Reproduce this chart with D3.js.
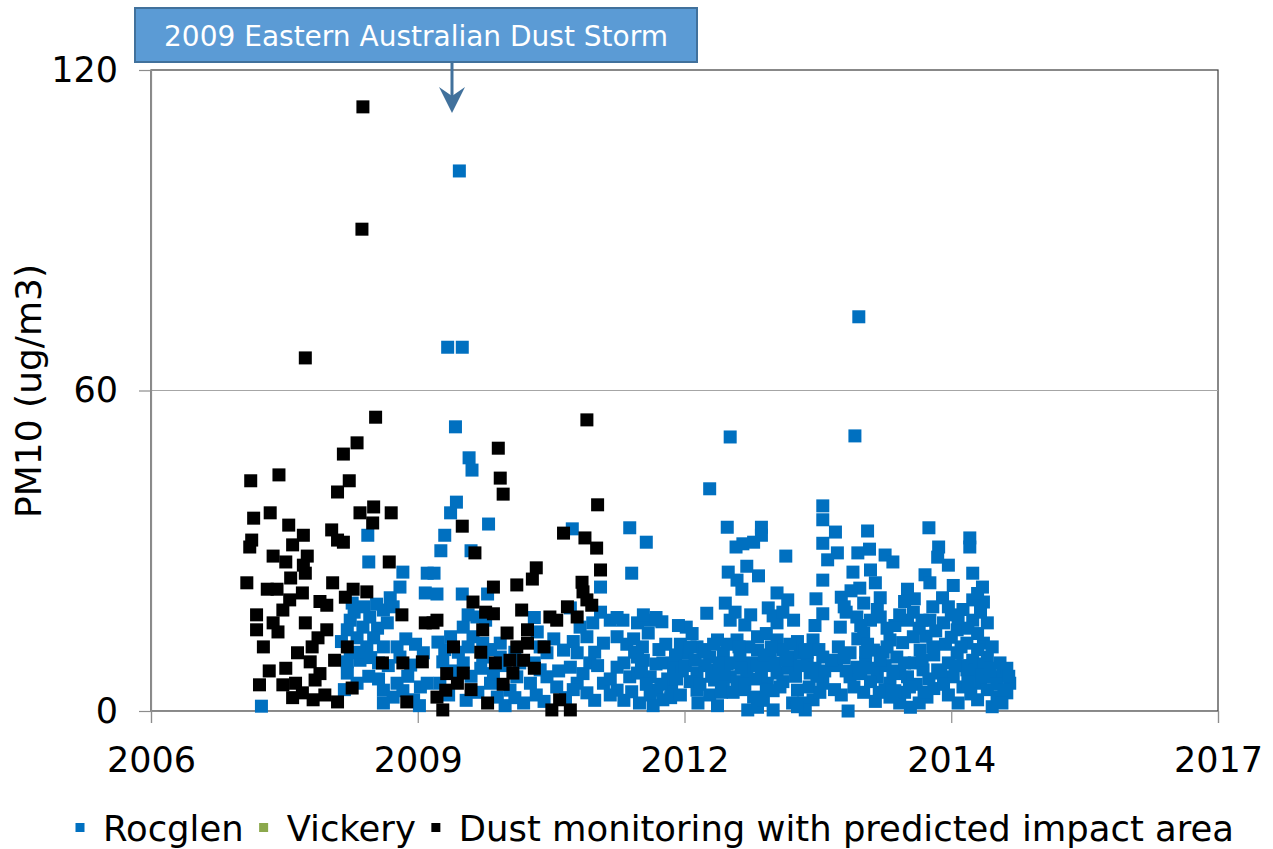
<!DOCTYPE html>
<html>
<head>
<meta charset="utf-8">
<script src="https://cdn.jsdelivr.net/npm/d3@7"></script>
<style>
  body { margin: 0; background: #fff; }
  svg { display: block; font-family: "DejaVu Sans", Verdana, sans-serif; }
</style>
</head>
<body>
<div id="chart"></div>
<script>
// ---------------------------- DATA ---------------------------- //
// [decimal year, PM10 ug/m3]
const dustMonitoring = [
  [2008.84,113.1],[2008.83,90.2],[2008.25,66.1],
  [2008.97,55.0],[2008.78,50.2],[2008.64,48.1],[2007.98,44.2],[2007.69,43.1],[2008.70,43.1],[2008.58,41.0],
  [2007.89,37.1],[2007.72,36.1],[2008.95,38.2],[2008.81,37.1],[2009.13,37.1],[2008.94,35.2],[2008.08,34.8],
  [2008.23,32.9],[2008.52,33.9],[2008.58,32.0],[2008.64,31.6],[2007.70,32.0],[2007.68,30.7],[2008.12,31.1],
  [2007.92,29.0],[2008.27,29.0],[2008.05,27.9],[2008.23,27.3],[2009.11,27.9],[2008.25,25.8],[2008.10,24.9],
  [2007.65,24.0],[2008.53,24.0],[2007.86,22.8],[2007.96,22.8],[2008.22,22.1],[2008.74,22.8],[2008.88,22.3],
  [2008.09,20.8],[2008.02,18.9],[2008.47,19.8],[2008.66,21.3],[2007.75,18.0],[2009.24,18.0],[2007.75,15.2],
  [2007.92,16.5],[2007.97,14.8],[2008.47,15.2],[2009.48,16.5],[2007.82,12.0],[2008.32,12.0],[2008.38,13.7],
  [2008.17,10.9],[2008.68,12.0],[2008.30,9.2],[2009.04,9.0],[2009.25,9.0],[2009.45,9.2],[2007.78,4.9],
  [2008.02,4.9],[2008.15,5.2],[2008.35,5.8],[2008.22,3.4],[2008.33,2.1],[2008.45,3.0],[2008.58,1.7],
  [2008.73,4.3],[2009.29,1.7],
  [2008.05,8.0],[2008.12,2.5],[2008.40,7.0],[2008.55,9.5],[2007.88,7.5],[2008.25,16.5],[2008.40,20.5],
  [2011.14,54.5],[2010.23,49.2],[2010.25,43.6],[2010.28,40.6],[2011.25,38.6],[2009.86,34.6],[2009.99,29.6],
  [2010.90,33.3],[2011.12,32.4],[2011.24,30.5],[2010.62,26.8],[2010.58,24.7],[2010.42,23.6],[2010.18,23.2],
  [2011.28,26.4],[2011.09,24.1],[2011.10,22.3],[2009.97,20.4],[2010.47,18.9],[2010.18,18.2],[2010.94,19.5],
  [2011.19,19.8],[2010.76,17.6],[2009.60,17.0],[2010.07,15.2],[2010.32,14.6],[2010.53,15.2],[2010.42,12.0],
  [2009.77,12.0],[2010.35,9.5],[2010.49,9.5],[2009.87,7.1],[2009.81,5.2],[2009.60,2.6],[2009.66,0.2],
  [2010.12,1.5],[2010.78,0.2],[2010.97,0.2],[2010.86,2.1],[2011.04,17.6],
  [2009.56,16.5],[2009.69,3.9],[2010.38,7.1],[2010.53,12.7],[2011.14,20.8],[2010.83,17.0],
  [2009.70,7.0],[2009.95,4.0],[2010.05,11.0],[2010.20,9.0],[2010.28,5.0],[2010.60,8.0],[2010.70,12.0],
  [2010.10,18.5]
];

const rocglen = [
  [2007.80,0.9],
  [2008.89,32.9],[2008.90,27.9],[2009.25,26.0],[2009.22,23.2],[2009.50,25.8],[2009.48,22.1],[2009.12,21.2],
  [2008.73,20.2],[2009.05,18.9],[2008.91,17.6],[2008.71,17.0],[2008.68,15.2],[2008.84,15.7],[2008.99,15.5],
  [2009.09,16.5],[2008.78,13.7],[2008.95,13.7],[2008.88,12.0],[2009.05,12.0],[2009.19,12.0],[2008.71,10.9],
  [2009.22,10.1],[2009.33,8.6],[2009.46,10.9],[2008.68,9.2],[2008.81,9.5],[2008.68,7.1],[2008.78,5.2],
  [2009.05,3.9],[2009.15,2.6],[2009.19,5.2],[2009.36,2.1],[2009.43,4.5],[2009.50,5.2],
  [2008.75,18.5],[2008.85,19.5],[2008.98,20.0],[2009.15,19.5],[2008.80,11.0],[2008.92,10.0],[2009.00,9.0],
  [2009.10,8.5],[2009.28,13.5],[2009.38,12.5],[2008.90,6.5],[2009.00,6.0],[2009.25,3.8],[2009.30,6.5],
  [2009.05,1.5],[2009.42,1.0],[2008.62,13.0],[2008.65,4.0],
  [2009.83,101.1],[2009.71,68.1],[2009.86,68.1],[2013.93,73.8],[2012.61,51.3],[2013.89,51.5],
  [2009.79,53.2],[2009.93,47.4],[2009.96,45.1],[2009.80,39.1],[2009.74,37.1],[2009.68,32.9],[2010.13,35.0],
  [2009.64,30.0],[2009.95,30.0],[2009.57,25.8],[2009.60,21.9],[2009.86,21.9],[2010.12,21.9],[2010.99,34.1],
  [2011.28,23.2],[2011.58,34.3],[2010.97,19.3],[2010.01,17.6],[2009.87,15.7],[2009.74,13.9],[2009.61,12.9],
  [2009.97,13.9],[2010.07,12.7],[2010.25,12.7],[2010.63,14.8],[2010.66,12.0],[2011.07,15.7],[2011.20,16.5],
  [2011.38,17.0],[2011.51,17.0],[2011.31,12.7],[2011.45,13.9],[2011.14,13.9],[2009.66,9.2],[2009.87,9.0],
  [2010.07,10.1],[2010.25,10.1],[2010.73,10.9],[2010.90,11.4],[2011.04,10.9],[2010.97,8.2],[2011.17,9.0],
  [2011.45,8.2],[2009.63,5.2],[2010.15,5.2],[2010.22,2.6],[2010.35,3.9],[2010.49,1.5],[2010.56,5.2],
  [2010.73,6.4],[2010.83,4.5],[2011.04,5.2],[2011.14,3.4],[2011.31,5.2],[2011.45,3.9],[2011.58,6.4],
  [2010.66,7.7],[2010.42,6.4],
  [2009.72,3.0],[2009.90,2.0],[2010.02,3.5],[2010.30,1.0],[2010.40,2.5],[2010.62,3.0],[2010.70,1.8],
  [2010.92,2.5],[2011.00,4.0],[2011.22,2.0],[2011.38,3.0],[2011.52,2.0],
  [2009.78,7.5],[2009.95,6.5],[2010.05,8.0],[2010.18,7.0],[2010.30,8.5],[2010.45,9.0],[2010.60,9.0],
  [2010.85,7.5],[2011.10,7.0],[2011.25,8.5],[2011.38,6.0],[2011.52,9.0],
  [2009.68,11.5],[2009.82,11.0],[2009.92,12.0],[2010.15,11.5],[2010.40,11.0],[2010.80,13.5],[2011.00,13.0],
  [2011.22,11.0],[2011.55,12.5],
  [2009.92,18.0],[2010.10,17.0],[2010.60,17.5],[2011.28,18.5],[2011.45,17.5],
  [2012.40,41.6],[2011.75,31.6],[2011.60,25.8],[2012.58,34.4],[2012.93,34.4],[2012.93,32.9],[2012.85,31.6],
  [2012.74,31.3],[2012.67,30.7],[2013.18,29.0],[2012.59,26.0],[2012.78,27.1],[2012.90,25.3],[2012.68,24.5],
  [2012.73,22.8],[2013.56,38.4],[2013.56,35.8],[2013.56,31.4],[2013.61,28.3],[2013.56,24.5],[2013.49,21.0],
  [2013.56,18.2],[2013.09,22.1],[2013.20,20.8],[2013.00,19.3],[2012.56,20.2],[2012.37,18.3],[2012.16,15.7],
  [2011.79,17.0],[2011.91,16.7],[2011.66,16.5],[2011.77,14.6],[2012.61,17.0],[2012.76,16.1],[2013.09,16.5],
  [2013.26,17.0],[2012.48,13.3],[2012.68,13.3],[2012.89,13.9],[2013.09,13.3],[2013.46,13.3],[2012.27,12.0],
  [2012.17,10.9],[2011.71,12.0],[2011.66,10.1],[2011.92,9.0],[2012.03,8.2],[2012.40,10.1],[2012.54,10.9],
  [2012.71,10.1],[2012.89,11.4],[2013.02,10.1],[2013.23,10.1],[2013.33,10.9],[2013.56,10.1],[2011.66,7.1],
  [2011.79,6.4],[2012.27,7.1],[2012.48,7.7],[2012.61,6.4],[2012.78,7.1],[2013.09,7.1],[2013.43,7.1],
  [2011.60,3.6],[2011.86,3.9],[2011.92,2.1],[2012.27,3.9],[2012.54,5.2],[2012.85,2.6],[2012.89,0.7],
  [2013.05,0.2],[2012.99,5.2],[2013.30,3.9],[2013.36,1.5],[2013.46,2.1],[2013.56,5.2],[2012.79,0.2],
  [2013.38,0.2],
  [2011.68,1.5],[2011.79,3.0],[2012.01,4.0],[2011.82,1.0],[2012.00,2.5],[2012.28,1.5],[2012.40,3.0],
  [2012.48,1.0],[2012.75,4.0],[2012.95,2.0],[2013.05,3.8],[2013.25,1.5],[2013.30,0.8],
  [2011.70,8.0],[2011.85,8.8],[2011.97,6.0],[2012.12,7.5],[2012.20,5.5],[2012.35,8.5],[2012.45,5.8],
  [2012.58,8.8],[2012.68,5.5],[2012.83,9.0],[2012.93,6.5],[2013.00,8.5],[2013.15,5.5],[2013.20,8.0],
  [2013.40,9.0],[2013.50,6.5],
  [2011.62,13.5],[2012.10,12.5],[2012.22,14.5],[2012.33,11.5],[2012.58,12.5],[2012.80,12.0],[2012.98,14.5],
  [2013.15,11.5],[2013.30,13.0],[2013.40,11.0],
  [2011.72,18.0],[2011.85,17.5],[2012.08,16.0],[2012.66,18.5],[2012.82,18.0],[2013.05,17.8],[2013.15,18.5],
  [2013.48,16.0],
  [2011.63,11.0],[2011.72,9.5],[2011.75,5.0],[2011.88,11.5],[2011.95,12.5],[2012.05,10.5],[2011.90,5.0],
  [2012.06,6.0],[2012.10,3.0],
  [2012.15,8.5],[2012.20,12.0],[2012.25,9.5],[2012.30,5.0],[2012.35,11.0],[2012.42,6.5],[2012.44,12.5],
  [2012.50,9.0],[2012.52,3.5],
  [2012.55,7.0],[2012.62,9.0],[2012.64,3.5],[2012.72,8.0],[2012.70,12.0],[2012.76,5.0],[2012.86,6.0],
  [2012.88,8.5],[2012.96,10.5],[2012.98,4.0],[2013.03,12.0],[2013.07,9.0],
  [2013.12,4.5],[2013.18,9.5],[2013.22,12.5],[2013.28,6.5],[2013.33,8.5],[2013.38,11.5],[2013.42,4.5],
  [2013.48,8.0],[2013.52,11.5],[2013.53,3.5],[2013.58,7.5],
  [2013.69,33.5],[2013.71,29.6],[2014.02,33.7],[2013.92,29.6],[2014.04,30.3],[2014.20,29.2],[2014.28,27.9],
  [2013.87,26.0],[2014.05,26.4],[2014.65,34.3],[2014.75,30.7],[2014.74,28.8],[2014.85,27.3],[2014.61,25.5],
  [2014.66,24.0],[2015.07,32.4],[2015.07,30.7],[2015.10,25.8],[2015.20,23.2],[2015.21,20.4],[2015.10,20.8],
  [2013.75,21.3],[2013.94,23.0],[2014.15,21.2],[2014.43,22.8],[2014.79,21.2],[2014.69,19.5],[2013.98,20.2],
  [2013.91,17.6],[2014.15,17.6],[2014.49,18.5],[2014.43,17.0],[2014.66,17.0],[2015.10,17.0],[2015.25,16.5],
  [2013.74,15.7],[2013.98,14.6],[2014.25,13.3],[2014.49,13.9],[2014.80,16.5],[2014.94,15.2],[2015.04,12.7],
  [2015.21,12.7],[2013.84,10.9],[2014.08,11.4],[2014.32,10.1],[2014.56,11.4],[2014.69,12.0],[2014.94,10.9],
  [2015.10,9.5],[2015.25,10.1],[2013.84,6.4],[2013.91,8.2],[2014.12,6.4],[2014.25,5.2],[2014.43,6.4],
  [2014.59,7.7],[2014.74,7.7],[2014.90,6.4],[2015.00,4.5],[2015.18,5.2],[2015.31,6.4],[2015.41,7.1],
  [2015.48,5.2],[2015.45,3.4],[2015.35,2.6],[2015.15,2.1],[2014.25,2.6],[2014.46,0.7],[2014.63,2.6],
  [2014.35,1.5],[2013.82,0.0],[2014.77,7.1],[2015.04,7.7],
  [2013.75,3.0],[2013.98,3.5],[2014.10,1.8],[2014.20,4.0],[2014.40,3.5],[2014.55,1.5],[2014.70,4.2],
  [2014.85,3.0],[2014.95,1.5],[2015.08,3.2],[2015.25,4.0],[2015.40,1.5],[2015.30,0.8],
  [2013.70,8.5],[2013.80,7.5],[2014.00,9.0],[2014.05,5.5],[2014.20,8.5],[2014.35,7.0],[2014.50,9.0],
  [2014.52,5.0],[2014.65,6.0],[2014.85,9.0],[2015.00,8.5],[2015.12,7.5],[2015.22,8.8],[2015.38,9.0],
  [2015.45,8.0],
  [2013.72,12.0],[2013.92,13.5],[2014.02,12.5],[2014.18,11.0],[2014.38,12.8],[2014.62,14.0],[2014.82,12.5],
  [2014.88,13.8],[2015.15,14.5],[2015.30,12.0],
  [2013.80,18.5],[2014.05,17.0],[2014.30,16.0],[2014.55,15.5],[2014.88,18.0],[2015.00,19.0],[2015.18,18.5],
  [2013.85,22.5],[2014.10,24.0],[2014.50,21.0],[2014.90,23.5],
  [2013.65,9.5],[2013.68,4.0],[2013.78,10.0],[2013.88,4.5],[2013.95,7.0],[2014.00,11.0],[2014.08,8.0],
  [2014.15,9.5],[2014.14,3.5],[2014.22,12.0],[2014.28,7.5],[2014.30,3.8],[2014.40,9.0],[2014.45,4.5],
  [2014.58,9.5],[2014.60,3.5],[2014.70,10.5],[2014.80,5.0],[2014.92,8.5],[2014.98,12.0],[2015.05,5.5],
  [2015.15,11.5],[2015.20,6.8],[2015.28,8.0],[2015.35,5.0],[2015.42,4.0],[2015.47,6.5],
  [2013.78,19.5],[2013.95,16.0],[2014.12,19.0],[2014.22,15.5],[2014.35,18.0],[2014.40,20.5],[2014.58,17.0],
  [2014.72,15.0],[2014.85,19.5],[2014.95,17.5],[2015.05,15.5],[2015.15,22.0]
];

const vickery = [];

const seriesNames = ["Rocglen", "Vickery", "Dust monitoring with predicted impact area"];
const seriesColors = ["#0070C0", "#8BA84C", "#000000"];
const xTickLabels = ["2006", "2009", "2012", "2014", "2017"];
const yTicks = [0, 60, 120];
const annotationText = "2009 Eastern Australian Dust Storm";

// ---------------------------- SETUP --------------------------- //
const width = 1273, height = 849;
const plotLeft = 151, plotRight = 1218, plotTop = 70, plotBottom = 711;

function yearToDate(y) {
  const yr = Math.floor(y);
  const a = new Date(yr, 0, 1), b = new Date(yr + 1, 0, 1);
  return new Date(+a + (y - yr) * (b - a));
}

const xStart = new Date(2006, 8, 1);
const xEnd = d3.timeDay.offset(xStart, 4000);
const xTickDates = xTickLabels.map((d, i) => d3.timeDay.offset(xStart, 1000 * i));

const xScale = d3.scaleTime().domain([xStart, xEnd]).range([plotLeft, plotRight]);
const yScale = d3.scaleLinear().domain([0, 120]).range([plotBottom, plotTop]);

const svg = d3.select("#chart").append("svg")
  .attr("width", width)
  .attr("height", height);

svg.append("rect").attr("width", width).attr("height", height).attr("fill", "#fff");

// plot border
svg.append("rect")
  .attr("x", plotLeft).attr("y", plotTop)
  .attr("width", plotRight - plotLeft).attr("height", plotBottom - plotTop)
  .attr("fill", "none").attr("stroke", "#3a3a3a").attr("stroke-width", 1.2);

// gridline
svg.append("g").selectAll("line")
  .data(yTicks.filter(d => d > 0 && d < 120))
  .enter().append("line")
  .attr("x1", plotLeft).attr("x2", plotRight)
  .attr("y1", d => yScale(d)).attr("y2", d => yScale(d))
  .attr("stroke", "#a6a6a6").attr("stroke-width", 1.2);

// ---------------------------- AXES ---------------------------- //
const yaxis = d3.axisLeft(yScale).tickValues(yTicks).tickSize(12).tickPadding(21);
const xaxis = d3.axisBottom(xScale).tickValues(xTickDates).tickSize(12).tickPadding(24)
  .tickFormat((d, i) => xTickLabels[i]);

const gy = svg.append("g").attr("transform", "translate(" + plotLeft + ",0)").call(yaxis);
const gx = svg.append("g").attr("transform", "translate(0," + plotBottom + ")").call(xaxis);

[gx, gy].forEach(g => {
  g.select(".domain").attr("stroke", "#8c8c8c").attr("stroke-width", 1.2);
  g.selectAll(".tick line").attr("stroke", "#8c8c8c").attr("stroke-width", 1.2);
  g.selectAll(".tick text")
    .attr("fill", "#000")
    .style("font-family", "DejaVu Sans")
    .style("font-size", "35px");
});

svg.append("text")
  .attr("transform", "translate(41,391) rotate(-90)")
  .attr("text-anchor", "middle")
  .style("font-size", "36px")
  .text("PM10 (ug/m3)");

// ---------------------------- POINTS -------------------------- //
// series order as in the legend: later series sit on top
const ms = 13;
function drawSeries(data, color) {
  svg.append("g").selectAll("rect")
    .data(data)
    .enter().append("rect")
    .attr("x", d => xScale(yearToDate(d[0])) - ms / 2)
    .attr("y", d => yScale(d[1]) - ms / 2)
    .attr("width", ms).attr("height", ms)
    .attr("fill", color);
}
drawSeries(rocglen, seriesColors[0]);
drawSeries(vickery, seriesColors[1]);
drawSeries(dustMonitoring, seriesColors[2]);

// ------------------------- ANNOTATION ------------------------- //
const ann = svg.append("g");
ann.append("rect")
  .attr("x", 135).attr("y", 8).attr("width", 562).attr("height", 54)
  .attr("fill", "#5B9BD5").attr("stroke", "#41719C").attr("stroke-width", 2);
ann.append("text")
  .attr("x", 416).attr("y", 46)
  .attr("text-anchor", "middle")
  .attr("fill", "#fff")
  .style("font-size", "28px")
  .text(annotationText);
ann.append("line")
  .attr("x1", 452).attr("x2", 452).attr("y1", 63).attr("y2", 100)
  .attr("stroke", "#41719C").attr("stroke-width", 3);
ann.append("path")
  .attr("d", "M452,113 L439,87 L452,96 L465,87 Z")
  .attr("fill", "#41719C");

// --------------------------- LEGEND --------------------------- //
const legend = svg.append("g");
let lx = 80;
seriesNames.forEach((name, i) => {
  legend.append("rect")
    .attr("x", lx - 4.5).attr("y", 823).attr("width", 9).attr("height", 9)
    .attr("fill", seriesColors[i]);
  const t = legend.append("text")
    .attr("x", lx + 23).attr("y", 841)
    .style("font-size", "35.4px")
    .text(name);
  lx = lx + 23 + t.node().getComputedTextLength() + 20;
});
</script>
</body>
</html>
